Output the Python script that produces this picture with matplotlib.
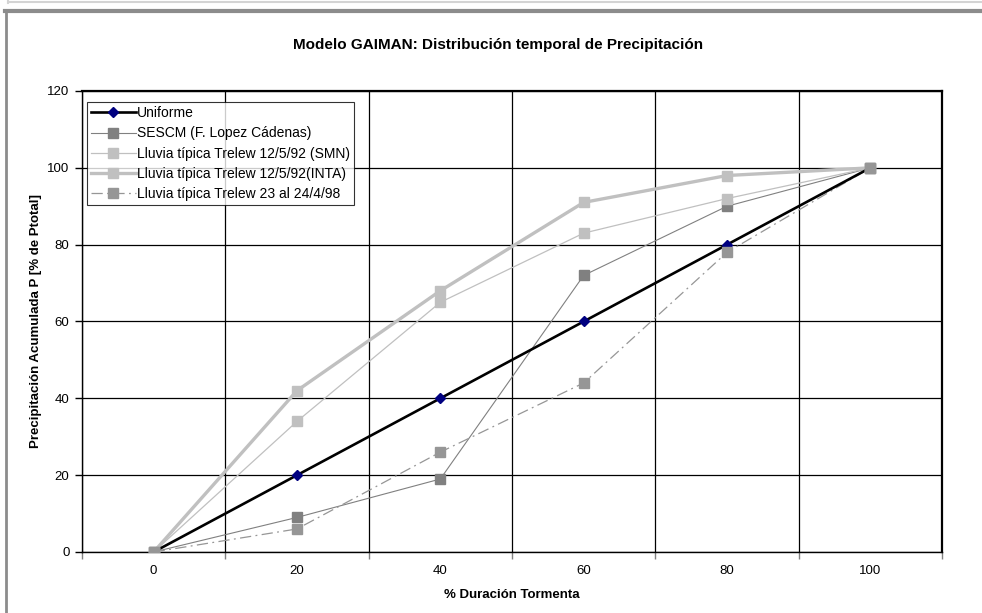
import matplotlib
matplotlib.use("Agg")
import matplotlib.pyplot as plt
from matplotlib.lines import Line2D

plt.rcParams['font.family'] = ['Liberation Sans', 'DejaVu Sans']

# Storm duration (%) categories and accumulated precipitation series (% of total)
duracion = [0, 20, 40, 60, 80, 100]
uniforme = [0, 20, 40, 60, 80, 100]
sescm = [0, 9, 19, 72, 90, 100]
trelew_smn = [0, 34, 65, 83, 92, 100]
trelew_inta = [0, 42, 68, 91, 98, 100]
trelew_98 = [0, 6, 26, 44, 78, 100]
y_ticks = [0, 20, 40, 60, 80, 100, 120]

W, H = 982, 613
fig = plt.figure(figsize=(W / 100, H / 100), dpi=100)
fig.patch.set_facecolor('white')

# window-style frame along the top and left edges
def px_line(x0, y0, x1, y1, color, lw):
    fig.add_artist(Line2D([x0 / W, x1 / W], [1 - y0 / H, 1 - y1 / H],
                          transform=fig.transFigure, color=color, lw=lw))

px_line(8, 2, W, 2, '#d4d4d4', 1.5)
px_line(8, 0, 8, 3, '#d4d4d4', 1.5)
px_line(5, 10.5, W, 10.5, '#8c8c8c', 3.0)
px_line(6, 10, 6, H, '#8c8c8c', 2.0)

ax = fig.add_axes([82 / W, 1 - 552 / H, (942 - 82) / W, (552 - 91) / H])

x = list(range(len(duracion)))

series = [
    (uniforme, 'Uniforme', dict(color='black', lw=1.9, ls='-'),
     dict(marker='D', ms=5.5, mfc='#000080', mec='#000080')),
    (sescm, 'SESCM (F. Lopez Cádenas)', dict(color='#808080', lw=0.8, ls='-'),
     dict(marker='s', ms=6.5, mfc='#808080', mec='#808080')),
    (trelew_smn, 'Lluvia típica Trelew 12/5/92 (SMN)', dict(color='#c0c0c0', lw=0.9, ls='-'),
     dict(marker='s', ms=6.5, mfc='#c0c0c0', mec='#c0c0c0')),
    (trelew_inta, 'Lluvia típica Trelew 12/5/92(INTA)', dict(color='#c0c0c0', lw=2.4, ls='-'),
     dict(marker='s', ms=6.5, mfc='#c0c0c0', mec='#c0c0c0')),
    (trelew_98, 'Lluvia típica Trelew 23 al 24/4/98',
     dict(color='#969696', lw=0.9, ls=(0, (9, 3.5, 1.5, 3.5))),
     dict(marker='s', ms=6.5, mfc='#969696', mec='#969696')),
]

handles = []
for i, (vals, name, line_kw, mark_kw) in enumerate(series):
    # connecting lines first, the bold uniform line above the others
    ax.plot(x, vals, zorder=3.5 if i == 0 else 3, **line_kw)
    # markers stacked in series order, later series on top
    ax.plot(x, vals, ls='none', zorder=4 + i * 0.1, **mark_kw)
    handles.append(Line2D([], [], label=name, **line_kw, **mark_kw))

ax.set_xlim(-0.5, len(duracion) - 0.5)
ax.set_ylim(0, 120)

ax.set_xticks(x)
ax.set_xticklabels([str(d) for d in duracion])
ax.set_xticks([i - 0.5 for i in range(len(duracion) + 1)], minor=True)
ax.tick_params(axis='x', which='major', length=0, pad=9, labelsize=9.5)
ax.tick_params(axis='x', which='minor', length=5, width=1, color='#808080', direction='out')
ax.set_yticks(y_ticks)
ax.tick_params(axis='y', which='major', length=5, width=1, direction='out', pad=4, labelsize=9.5)

ax.grid(True, axis='x', which='minor', color='black', lw=0.9)
ax.grid(True, axis='y', which='major', color='black', lw=0.9)
ax.set_axisbelow(True)

for s in ax.spines.values():
    s.set_color('black')
    s.set_linewidth(1.0)
ax.spines['right'].set_linewidth(1.6)
ax.spines['top'].set_linewidth(1.6)

ax.set_xlabel('% Duración Tormenta', fontsize=9.5, fontweight='bold')
ax.set_ylabel('Precipitación Acumulada P [% de Ptotal]', fontsize=9.5, fontweight='bold')
ax.xaxis.set_label_coords(0.5, -0.093)
ax.yaxis.set_label_coords(-0.0535, 0.5)
ax.xaxis.label.set_va('center')
ax.yaxis.label.set_va('center')

fig.text(0.5076, 1 - 45 / H, 'Modelo GAIMAN: Distribución temporal de Precipitación',
         ha='center', va='center', fontsize=11, fontweight='bold')

leg = ax.legend(handles=handles, loc='upper left', bbox_to_anchor=(5 / 860, 1 - 11 / 461),
                fontsize=10, frameon=True, fancybox=False, borderpad=0.3,
                handlelength=3.2, handletextpad=0.1, labelspacing=0.45,
                borderaxespad=0)
leg.get_frame().set_edgecolor('black')
leg.get_frame().set_linewidth(0.8)
leg.set_zorder(10)

fig.savefig('out.png', dpi=100, facecolor='white')
